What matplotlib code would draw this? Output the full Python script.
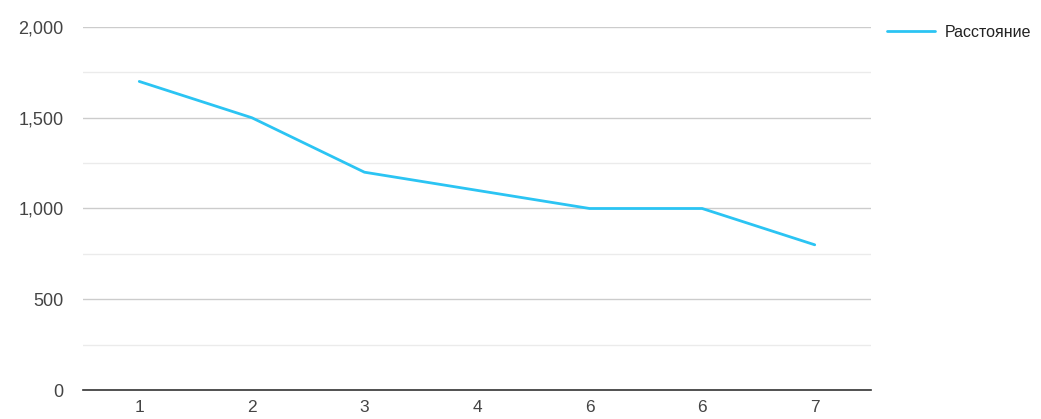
import matplotlib.pyplot as plt
from matplotlib.ticker import FuncFormatter, MultipleLocator

plt.rcParams['font.family'] = ['Liberation Sans', 'DejaVu Sans']

# chart data
labels = ['1', '2', '3', '4', '6', '6', '7']
distance = [1700, 1500, 1200, 1100, 1000, 1000, 800]
series_name = 'Расстояние'

fig = plt.figure(figsize=(10.41, 4.19), dpi=100)
ax = fig.add_axes([0.0797, 0.0692, 0.7570, 0.8664])

x = range(len(labels))
ax.plot(x, distance, color='#2bc4f3', lw=2.0, solid_joinstyle='round',
        solid_capstyle='round', label=series_name, zorder=3)

ax.set_xlim(-0.5, len(labels) - 0.5)
ax.set_ylim(0, 2000)
ax.yaxis.set_major_locator(MultipleLocator(500))
ax.yaxis.set_minor_locator(MultipleLocator(250))
ax.yaxis.set_major_formatter(FuncFormatter(lambda v, p: f'{int(v):,}'))
ax.set_xticks(list(x))
ax.set_xticklabels(labels)

ax.grid(axis='y', which='major', color='#cccccc', lw=1)
ax.grid(axis='y', which='minor', color='#ebebeb', lw=1)
ax.set_axisbelow(True)

for s in ['top', 'right', 'left']:
    ax.spines[s].set_visible(False)
ax.spines['bottom'].set_color('#333333')
ax.spines['bottom'].set_linewidth(1.2)

ax.tick_params(axis='both', which='both', length=0, labelsize=13, labelcolor='#444444')
ax.tick_params(axis='y', pad=14)
ax.tick_params(axis='x', pad=7, labelsize=12.5)

leg = ax.legend(loc='upper left', bbox_to_anchor=(1.0, 1.05), frameon=False,
                fontsize=11.5, handlelength=3.0, handletextpad=0.6,
                borderaxespad=0.6)
for t in leg.get_texts():
    t.set_color('#222222')

fig.savefig('out.png', dpi=100)
